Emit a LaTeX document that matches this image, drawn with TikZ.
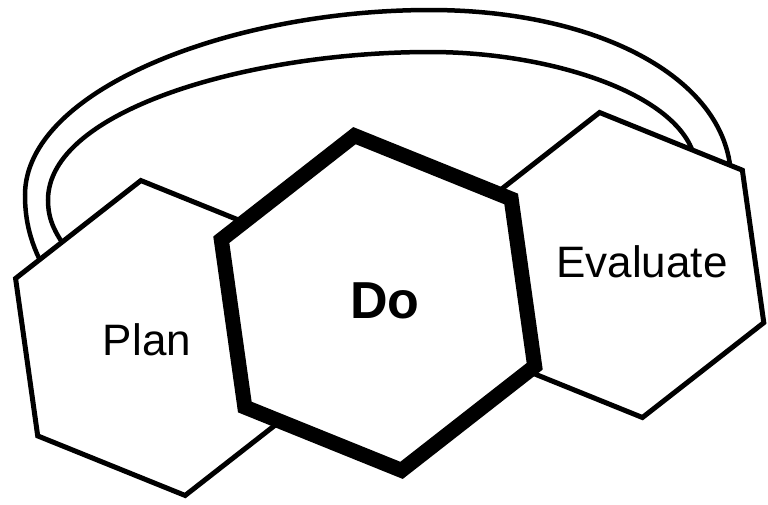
\documentclass[tikz,border=0pt]{standalone}
\usepackage{fontspec}
\setmainfont{Liberation Sans}
\usepackage{tikz}
\usetikzlibrary{shapes.geometric}
\tikzset{>=latex}
\tikzset{
  hexa/.style={regular polygon, regular polygon sides=6, regular polygon rotate=-22,
    draw, fill=white, line width=5pt, inner sep=0pt},
  dohexa/.style={hexa, line width=15pt},
  word/.style={font=\fontsize{44}{50}\selectfont},
  band/.style={line width=4.5pt}
}

\begin{document}
\begin{tikzpicture}[x=1pt, y=-1pt]
\useasboundingbox (0,0) rectangle (768,504);
% the loop back from Evaluate to Plan
\draw[band] (48,275) .. controls (30,245) and (25,220) .. (25,195)
  .. controls (25,90) and (230,10) .. (430,10)
  .. controls (600,10) and (731,80) .. (731,180);
\draw[band] (74,258) .. controls (55,235) and (48,220) .. (48,200)
  .. controls (48,110) and (250,52) .. (430,52)
  .. controls (560,52) and (696,100) .. (696,170);
\node (evaluate) at (621,265) [hexa, minimum size=308pt] {};
\node (plan) at (163,338) [hexa, minimum size=318pt] {};
\node (do) at (378,303) [dohexa, minimum size=338pt] {};
\node (plantext) at (147,340) [word] {Plan};
\node (evaluatetext) at (642,262) [word] {Evaluate};
\node (dotext) at (385,301) [word, font=\fontsize{52}{58}\selectfont\bfseries] {Do};
\end{tikzpicture}
\end{document}
